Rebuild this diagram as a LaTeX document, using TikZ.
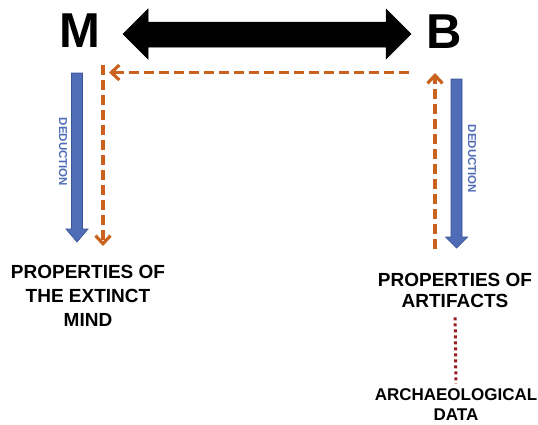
\documentclass[tikz,border=0pt]{standalone}
\usepackage{fontspec}
\setmainfont{Liberation Sans}
\usetikzlibrary{arrows.meta}
\definecolor{orangeA}{HTML}{C9621F}
\definecolor{blueA}{HTML}{4F6DB6}
\definecolor{blueB}{HTML}{3B5499}
\definecolor{redA}{HTML}{9B1C1C}
\begin{document}
\begin{tikzpicture}[x=1pt,y=-1pt,
  bigletter/.style={inner sep=0pt, text depth=0pt, font=\fontsize{49}{49}\selectfont\bfseries},
  deduc/.style={inner sep=0pt, text=blueA, font=\fontsize{11.5}{12}\selectfont\bfseries},
  proptext/.style={inner sep=0pt, align=center, font=\fontsize{19}{24}\selectfont\bfseries},
  proptextb/.style={inner sep=0pt, align=center, font=\fontsize{19}{21}\selectfont\bfseries},
  archtext/.style={inner sep=0pt, align=center, font=\fontsize{17}{19.5}\selectfont\bfseries},
  orangedash/.style={draw=orangeA, line width=3.2pt, dash pattern=on 10pt off 5pt,
    -{Straight Barb[length=8pt,width=15pt]}},
  reddot/.style={draw=redA, line width=3pt, dash pattern=on 3pt off 3pt},
  bluearrow/.style={fill=blueA, draw=blueB, line width=0.7pt, line join=miter},
  blackarrow/.style={fill=black, draw=black, line width=0.5pt, line join=miter}]
\useasboundingbox (0,0) rectangle (538,424);

% big letters
\node[bigletter] (M) at (79.5,31) {M};
\node[bigletter] (B) at (444,31.5) {B};

% black double arrow
\fill[blackarrow] (123,34) -- (148,9) -- (148,22) -- (386,22) -- (386,9) -- (411,34)
  -- (386,59) -- (386,47) -- (148,47) -- (148,59) -- cycle;

% blue deduction arrows
\fill[bluearrow] (71.5,73) -- (82.5,73) -- (82.5,229) -- (88,229) -- (77,242)
  -- (66,229) -- (71.5,229) -- cycle;
\fill[bluearrow] (451,79) -- (462,79) -- (462,237) -- (467.5,237) -- (456.5,248)
  -- (445.5,237) -- (451,237) -- cycle;

\node[deduc, rotate=-90] (dedL) at (63,152) {DEDUCTION};
\node[deduc, rotate=-90] (dedR) at (472,159) {DEDUCTION};

% texts
\node[proptext] (mind) at (88,296) {PROPERTIES OF\\THE EXTINCT\\MIND};
\node[proptextb] (art) at (455,290) {PROPERTIES OF\\ARTIFACTS};
\node[archtext] (arch) at (456,404.5) {ARCHAEOLOGICAL\\DATA};

% orange dashed connectors
\coordinate (lt) at (103,65);
\coordinate (lb) at (103,246);
\coordinate (hr) at (409,72.5);
\coordinate (hl) at (109,72.5);
\coordinate (rb) at (435,249);
\coordinate (rt) at (435,73);
\draw[orangedash] (lt) -- (lb);
\draw[orangedash] (hr) -- (hl);
\draw[orangedash] (rb) -- (rt);

% red dotted connector
\draw[reddot, shorten <=10pt, shorten >=5pt] (art.south) -- (arch.north);
\end{tikzpicture}
\end{document}
